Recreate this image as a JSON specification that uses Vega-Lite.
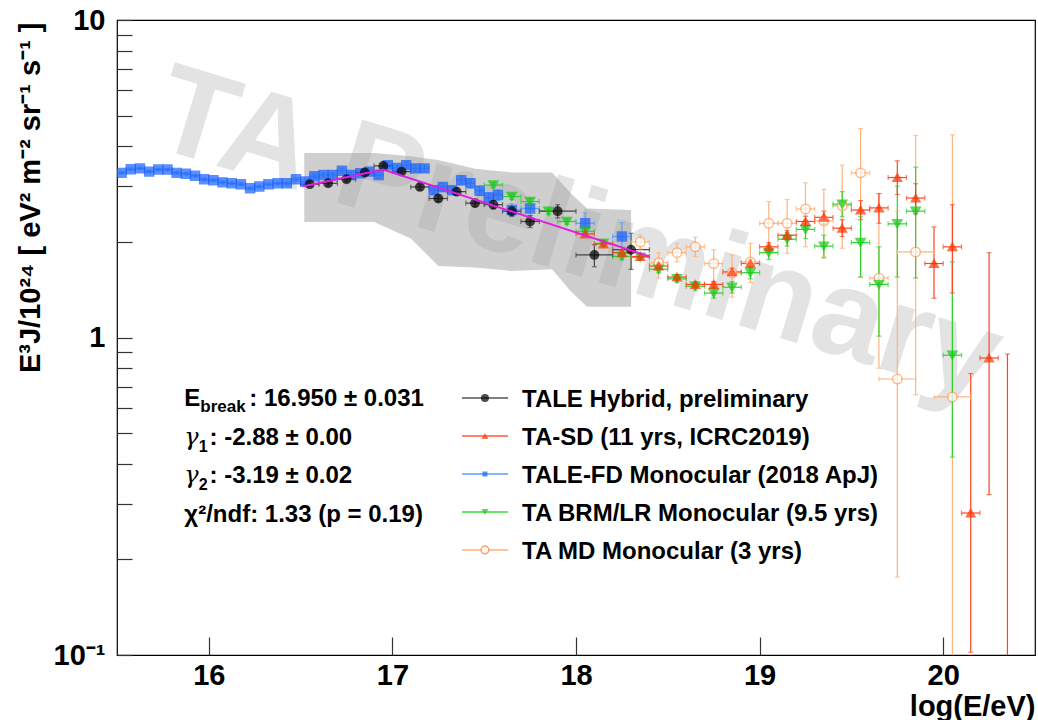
{
"$schema": "https://vega.github.io/schema/vega-lite/v6.json",
"width": 918, "height": 635,
"autosize": {"type": "none"},
"padding": {"left": 117, "top": 20, "right": 3, "bottom": 65},
"background": "white",
"config": {"view": {"stroke": "#000", "strokeWidth": 1.2}, "font": "Liberation Sans"},
"resolve": {"scale": {"shape": "independent"}},
"datasets": {
"pts": [
{"s":"FD","x":15.525,"y":3.30,"ylo":3.27,"yhi":3.33,"xlo":15.5,"xhi":15.55},
{"s":"FD","x":15.575,"y":3.39,"ylo":3.36,"yhi":3.42,"xlo":15.55,"xhi":15.6},
{"s":"FD","x":15.625,"y":3.41,"ylo":3.38,"yhi":3.44,"xlo":15.6,"xhi":15.65},
{"s":"FD","x":15.675,"y":3.33,"ylo":3.30,"yhi":3.36,"xlo":15.65,"xhi":15.7},
{"s":"FD","x":15.725,"y":3.38,"ylo":3.35,"yhi":3.41,"xlo":15.7,"xhi":15.75},
{"s":"FD","x":15.775,"y":3.38,"ylo":3.35,"yhi":3.41,"xlo":15.75,"xhi":15.8},
{"s":"FD","x":15.825,"y":3.30,"ylo":3.27,"yhi":3.33,"xlo":15.8,"xhi":15.85},
{"s":"FD","x":15.875,"y":3.28,"ylo":3.25,"yhi":3.31,"xlo":15.85,"xhi":15.9},
{"s":"FD","x":15.925,"y":3.23,"ylo":3.20,"yhi":3.26,"xlo":15.9,"xhi":15.95},
{"s":"FD","x":15.975,"y":3.15,"ylo":3.12,"yhi":3.18,"xlo":15.95,"xhi":16.0},
{"s":"FD","x":16.025,"y":3.13,"ylo":3.10,"yhi":3.16,"xlo":16.0,"xhi":16.05},
{"s":"FD","x":16.075,"y":3.08,"ylo":3.05,"yhi":3.11,"xlo":16.05,"xhi":16.1},
{"s":"FD","x":16.125,"y":3.06,"ylo":3.03,"yhi":3.09,"xlo":16.1,"xhi":16.15},
{"s":"FD","x":16.175,"y":3.04,"ylo":3.01,"yhi":3.07,"xlo":16.15,"xhi":16.2},
{"s":"FD","x":16.225,"y":2.95,"ylo":2.92,"yhi":2.98,"xlo":16.2,"xhi":16.25},
{"s":"FD","x":16.275,"y":2.99,"ylo":2.96,"yhi":3.02,"xlo":16.25,"xhi":16.3},
{"s":"FD","x":16.325,"y":3.04,"ylo":3.01,"yhi":3.07,"xlo":16.3,"xhi":16.35},
{"s":"FD","x":16.375,"y":3.06,"ylo":3.03,"yhi":3.09,"xlo":16.35,"xhi":16.4},
{"s":"FD","x":16.425,"y":3.06,"ylo":3.03,"yhi":3.09,"xlo":16.4,"xhi":16.45},
{"s":"FD","x":16.475,"y":3.15,"ylo":3.11,"yhi":3.19,"xlo":16.45,"xhi":16.5},
{"s":"FD","x":16.525,"y":3.10,"ylo":3.05,"yhi":3.15,"xlo":16.5,"xhi":16.55},
{"s":"FD","x":16.575,"y":3.22,"ylo":3.17,"yhi":3.27,"xlo":16.55,"xhi":16.6},
{"s":"FD","x":16.625,"y":3.25,"ylo":3.20,"yhi":3.30,"xlo":16.6,"xhi":16.65},
{"s":"FD","x":16.675,"y":3.25,"ylo":3.20,"yhi":3.30,"xlo":16.65,"xhi":16.7},
{"s":"FD","x":16.725,"y":3.35,"ylo":3.29,"yhi":3.41,"xlo":16.7,"xhi":16.75},
{"s":"FD","x":16.775,"y":3.25,"ylo":3.19,"yhi":3.31,"xlo":16.75,"xhi":16.8},
{"s":"FD","x":16.825,"y":3.29,"ylo":3.23,"yhi":3.35,"xlo":16.8,"xhi":16.85},
{"s":"FD","x":16.875,"y":3.33,"ylo":3.27,"yhi":3.39,"xlo":16.85,"xhi":16.9},
{"s":"FD","x":16.925,"y":3.25,"ylo":3.18,"yhi":3.32,"xlo":16.9,"xhi":16.95},
{"s":"FD","x":16.975,"y":3.49,"ylo":3.42,"yhi":3.56,"xlo":16.95,"xhi":17.0},
{"s":"FD","x":17.025,"y":3.42,"ylo":3.35,"yhi":3.49,"xlo":17.0,"xhi":17.05},
{"s":"FD","x":17.075,"y":3.49,"ylo":3.41,"yhi":3.57,"xlo":17.05,"xhi":17.1},
{"s":"FD","x":17.125,"y":3.41,"ylo":3.33,"yhi":3.49,"xlo":17.1,"xhi":17.15},
{"s":"FD","x":17.175,"y":3.41,"ylo":3.33,"yhi":3.49,"xlo":17.15,"xhi":17.2},
{"s":"FD","x":17.225,"y":2.91,"ylo":2.83,"yhi":2.99,"xlo":17.2,"xhi":17.25},
{"s":"FD","x":17.275,"y":2.98,"ylo":2.90,"yhi":3.06,"xlo":17.25,"xhi":17.3},
{"s":"FD","x":17.325,"y":2.91,"ylo":2.83,"yhi":2.99,"xlo":17.3,"xhi":17.35},
{"s":"FD","x":17.375,"y":3.13,"ylo":3.03,"yhi":3.23,"xlo":17.35,"xhi":17.4},
{"s":"FD","x":17.425,"y":3.06,"ylo":2.96,"yhi":3.16,"xlo":17.4,"xhi":17.45},
{"s":"FD","x":17.475,"y":2.90,"ylo":2.80,"yhi":3.00,"xlo":17.45,"xhi":17.5},
{"s":"FD","x":17.525,"y":2.76,"ylo":2.66,"yhi":2.86,"xlo":17.5,"xhi":17.55},
{"s":"FD","x":17.575,"y":2.81,"ylo":2.70,"yhi":2.92,"xlo":17.55,"xhi":17.6},
{"s":"FD","x":17.65,"y":2.52,"ylo":2.40,"yhi":2.64,"xlo":17.6,"xhi":17.7},
{"s":"FD","x":17.75,"y":2.55,"ylo":2.42,"yhi":2.68,"xlo":17.7,"xhi":17.8},
{"s":"FD","x":18.05,"y":2.29,"ylo":2.12,"yhi":2.47,"xlo":18.0,"xhi":18.1},
{"s":"FD","x":18.25,"y":2.08,"ylo":1.89,"yhi":2.30,"xlo":18.2,"xhi":18.3},
{"s":"MD","x":18.35,"y":2.00,"ylo":1.90,"yhi":2.10,"xlo":18.3,"xhi":18.4},
{"s":"MD","x":18.45,"y":1.72,"ylo":1.54,"yhi":1.85,"xlo":18.4,"xhi":18.5},
{"s":"MD","x":18.55,"y":1.85,"ylo":1.73,"yhi":1.98,"xlo":18.5,"xhi":18.6},
{"s":"MD","x":18.65,"y":1.93,"ylo":1.80,"yhi":2.07,"xlo":18.6,"xhi":18.7},
{"s":"MD","x":18.75,"y":1.71,"ylo":1.49,"yhi":1.89,"xlo":18.7,"xhi":18.8},
{"s":"MD","x":18.85,"y":1.60,"ylo":1.34,"yhi":1.82,"xlo":18.8,"xhi":18.9},
{"s":"MD","x":18.95,"y":1.73,"ylo":1.49,"yhi":1.98,"xlo":18.9,"xhi":19.0},
{"s":"MD","x":19.05,"y":2.29,"ylo":1.96,"yhi":2.68,"xlo":19.0,"xhi":19.1},
{"s":"MD","x":19.15,"y":2.29,"ylo":1.84,"yhi":2.72,"xlo":19.1,"xhi":19.2},
{"s":"MD","x":19.25,"y":2.54,"ylo":1.93,"yhi":3.07,"xlo":19.2,"xhi":19.3},
{"s":"MD","x":19.35,"y":2.33,"ylo":1.80,"yhi":2.93,"xlo":19.3,"xhi":19.4},
{"s":"MD","x":19.45,"y":2.60,"ylo":1.91,"yhi":3.49,"xlo":19.4,"xhi":19.5},
{"s":"MD","x":19.55,"y":3.30,"ylo":1.55,"yhi":4.55,"xlo":19.5,"xhi":19.6},
{"s":"MD","x":19.65,"y":1.54,"ylo":0.80,"yhi":2.84,"xlo":19.6,"xhi":19.7},
{"s":"MD","x":19.75,"y":0.74,"ylo":0.176,"yhi":2.5,"xlo":19.65,"xhi":19.85},
{"s":"MD","x":19.85,"y":1.86,"ylo":0.66,"yhi":4.33,"xlo":19.75,"xhi":19.95},
{"s":"MD","x":20.05,"y":0.65,"ylo":0.05,"yhi":4.35,"xlo":19.95,"xhi":20.15},
{"s":"BRM","x":17.55,"y":3.02,"ylo":2.96,"yhi":3.08,"xlo":17.5,"xhi":17.6},
{"s":"BRM","x":17.65,"y":2.78,"ylo":2.72,"yhi":2.84,"xlo":17.6,"xhi":17.7},
{"s":"BRM","x":17.75,"y":2.68,"ylo":2.62,"yhi":2.74,"xlo":17.7,"xhi":17.8},
{"s":"BRM","x":17.85,"y":2.50,"ylo":2.44,"yhi":2.56,"xlo":17.8,"xhi":17.9},
{"s":"BRM","x":17.95,"y":2.32,"ylo":2.27,"yhi":2.37,"xlo":17.9,"xhi":18.0},
{"s":"BRM","x":18.05,"y":2.16,"ylo":2.11,"yhi":2.21,"xlo":18.0,"xhi":18.1},
{"s":"BRM","x":18.15,"y":1.98,"ylo":1.94,"yhi":2.02,"xlo":18.1,"xhi":18.2},
{"s":"BRM","x":18.25,"y":1.80,"ylo":1.76,"yhi":1.84,"xlo":18.2,"xhi":18.3},
{"s":"BRM","x":18.35,"y":1.79,"ylo":1.75,"yhi":1.83,"xlo":18.3,"xhi":18.4},
{"s":"BRM","x":18.45,"y":1.64,"ylo":1.60,"yhi":1.68,"xlo":18.4,"xhi":18.5},
{"s":"BRM","x":18.55,"y":1.53,"ylo":1.49,"yhi":1.57,"xlo":18.5,"xhi":18.6},
{"s":"BRM","x":18.65,"y":1.45,"ylo":1.41,"yhi":1.49,"xlo":18.6,"xhi":18.7},
{"s":"BRM","x":18.75,"y":1.38,"ylo":1.33,"yhi":1.43,"xlo":18.7,"xhi":18.8},
{"s":"BRM","x":18.85,"y":1.44,"ylo":1.38,"yhi":1.50,"xlo":18.8,"xhi":18.9},
{"s":"BRM","x":18.95,"y":1.60,"ylo":1.53,"yhi":1.67,"xlo":18.9,"xhi":19.0},
{"s":"BRM","x":19.05,"y":1.85,"ylo":1.76,"yhi":1.94,"xlo":19.0,"xhi":19.1},
{"s":"BRM","x":19.15,"y":2.04,"ylo":1.94,"yhi":2.14,"xlo":19.1,"xhi":19.2},
{"s":"BRM","x":19.25,"y":2.19,"ylo":2.05,"yhi":2.33,"xlo":19.2,"xhi":19.3},
{"s":"BRM","x":19.35,"y":1.94,"ylo":1.78,"yhi":2.10,"xlo":19.3,"xhi":19.4},
{"s":"BRM","x":19.45,"y":2.63,"ylo":2.40,"yhi":2.88,"xlo":19.4,"xhi":19.5},
{"s":"BRM","x":19.55,"y":1.99,"ylo":1.55,"yhi":2.40,"xlo":19.5,"xhi":19.6},
{"s":"BRM","x":19.65,"y":1.47,"ylo":1.01,"yhi":1.93,"xlo":19.6,"xhi":19.7},
{"s":"BRM","x":19.75,"y":2.28,"ylo":1.55,"yhi":3.00,"xlo":19.7,"xhi":19.8},
{"s":"BRM","x":19.85,"y":2.50,"ylo":1.54,"yhi":3.44,"xlo":19.8,"xhi":19.9},
{"s":"BRM","x":20.05,"y":0.88,"ylo":0.42,"yhi":1.73,"xlo":20.0,"xhi":20.1},
{"s":"SD","x":18.05,"y":2.12,"ylo":2.09,"yhi":2.15,"xlo":18.0,"xhi":18.1},
{"s":"SD","x":18.15,"y":1.97,"ylo":1.94,"yhi":2.00,"xlo":18.1,"xhi":18.2},
{"s":"SD","x":18.25,"y":1.85,"ylo":1.82,"yhi":1.88,"xlo":18.2,"xhi":18.3},
{"s":"SD","x":18.35,"y":1.80,"ylo":1.77,"yhi":1.83,"xlo":18.3,"xhi":18.4},
{"s":"SD","x":18.45,"y":1.68,"ylo":1.65,"yhi":1.71,"xlo":18.4,"xhi":18.5},
{"s":"SD","x":18.55,"y":1.55,"ylo":1.52,"yhi":1.58,"xlo":18.5,"xhi":18.6},
{"s":"SD","x":18.65,"y":1.47,"ylo":1.44,"yhi":1.50,"xlo":18.6,"xhi":18.7},
{"s":"SD","x":18.75,"y":1.47,"ylo":1.44,"yhi":1.50,"xlo":18.7,"xhi":18.8},
{"s":"SD","x":18.85,"y":1.61,"ylo":1.57,"yhi":1.65,"xlo":18.8,"xhi":18.9},
{"s":"SD","x":18.95,"y":1.71,"ylo":1.66,"yhi":1.76,"xlo":18.9,"xhi":19.0},
{"s":"SD","x":19.05,"y":1.93,"ylo":1.87,"yhi":1.99,"xlo":19.0,"xhi":19.1},
{"s":"SD","x":19.15,"y":2.10,"ylo":2.03,"yhi":2.17,"xlo":19.1,"xhi":19.2},
{"s":"SD","x":19.25,"y":2.32,"ylo":2.23,"yhi":2.41,"xlo":19.2,"xhi":19.3},
{"s":"SD","x":19.35,"y":2.39,"ylo":2.28,"yhi":2.50,"xlo":19.3,"xhi":19.4},
{"s":"SD","x":19.45,"y":2.21,"ylo":2.08,"yhi":2.35,"xlo":19.4,"xhi":19.5},
{"s":"SD","x":19.55,"y":2.52,"ylo":2.35,"yhi":2.70,"xlo":19.5,"xhi":19.6},
{"s":"SD","x":19.65,"y":2.56,"ylo":2.29,"yhi":2.84,"xlo":19.6,"xhi":19.7},
{"s":"SD","x":19.75,"y":3.19,"ylo":2.82,"yhi":3.60,"xlo":19.7,"xhi":19.8},
{"s":"SD","x":19.85,"y":2.75,"ylo":2.45,"yhi":3.05,"xlo":19.8,"xhi":19.9},
{"s":"SD","x":19.95,"y":1.71,"ylo":1.33,"yhi":2.23,"xlo":19.9,"xhi":20.0},
{"s":"SD","x":20.05,"y":1.93,"ylo":1.38,"yhi":2.62,"xlo":20.0,"xhi":20.1},
{"s":"SD","x":20.15,"y":0.28,"ylo":0.102,"yhi":0.77,"xlo":20.1,"xhi":20.2},
{"s":"SD","x":20.25,"y":0.862,"ylo":0.32,"yhi":1.85,"xlo":20.2,"xhi":20.3},
{"s":"SD","x":20.35,"y":0.09,"ylo":0.05,"yhi":0.887,"xlo":20.3,"xhi":20.4},
{"s":"H","x":16.55,"y":3.04,"ylo":2.99,"yhi":3.09,"xlo":16.5,"xhi":16.6},
{"s":"H","x":16.65,"y":3.06,"ylo":3.01,"yhi":3.11,"xlo":16.6,"xhi":16.7},
{"s":"H","x":16.75,"y":3.15,"ylo":3.10,"yhi":3.20,"xlo":16.7,"xhi":16.8},
{"s":"H","x":16.85,"y":3.31,"ylo":3.25,"yhi":3.37,"xlo":16.8,"xhi":16.9},
{"s":"H","x":16.95,"y":3.47,"ylo":3.41,"yhi":3.53,"xlo":16.9,"xhi":17.0},
{"s":"H","x":17.05,"y":3.33,"ylo":3.27,"yhi":3.39,"xlo":17.0,"xhi":17.1},
{"s":"H","x":17.15,"y":2.98,"ylo":2.92,"yhi":3.04,"xlo":17.1,"xhi":17.2},
{"s":"H","x":17.25,"y":2.74,"ylo":2.68,"yhi":2.80,"xlo":17.2,"xhi":17.3},
{"s":"H","x":17.35,"y":2.88,"ylo":2.81,"yhi":2.95,"xlo":17.3,"xhi":17.4},
{"s":"H","x":17.45,"y":2.65,"ylo":2.58,"yhi":2.72,"xlo":17.4,"xhi":17.5},
{"s":"H","x":17.55,"y":2.62,"ylo":2.54,"yhi":2.70,"xlo":17.5,"xhi":17.6},
{"s":"H","x":17.65,"y":2.50,"ylo":2.41,"yhi":2.59,"xlo":17.6,"xhi":17.7},
{"s":"H","x":17.75,"y":2.32,"ylo":2.22,"yhi":2.42,"xlo":17.7,"xhi":17.8},
{"s":"H","x":17.90,"y":2.50,"ylo":2.38,"yhi":2.62,"xlo":17.8,"xhi":18.0},
{"s":"H","x":18.10,"y":1.82,"ylo":1.67,"yhi":1.96,"xlo":18.0,"xhi":18.2},
{"s":"H","x":18.30,"y":1.89,"ylo":1.64,"yhi":2.13,"xlo":18.2,"xhi":18.4}
],
"band": [
{"bx":16.52,"lo":2.31,"hi":3.81},
{"bx":16.90,"lo":2.31,"hi":3.81},
{"bx":17.10,"lo":2.05,"hi":3.72},
{"bx":17.25,"lo":1.68,"hi":3.62},
{"bx":17.45,"lo":1.66,"hi":3.40},
{"bx":17.65,"lo":1.62,"hi":3.31},
{"bx":17.87,"lo":1.64,"hi":3.31},
{"bx":17.97,"lo":1.40,"hi":2.85},
{"bx":18.06,"lo":1.25,"hi":2.55},
{"bx":18.30,"lo":1.25,"hi":2.52}
],
"fit": [
{"fx":16.51,"fy":2.99},
{"fx":16.95,"fy":3.38},
{"fx":18.40,"fy":1.80}
]
},
"layer": [
{"data": {"values": [{}]},
 "mark": {"type": "text", "text": "TA Preliminary", "align": "center", "baseline": "alphabetic", "angle": 17, "font": "Liberation Sans", "fontWeight": "bold", "fontSize": 126, "color": "#e3e3e3"},
 "encoding": {
  "x": {"datum": 17.95, "type": "quantitative", "scale": {"domain": [15.5, 20.5], "nice": false, "zero": false}},
  "y": {"datum": 1.60, "type": "quantitative", "scale": {"type": "log", "domain": [0.1, 10], "nice": false}}
 }},
{"data": {"name": "band"},
 "mark": {"type": "area", "color": "#a0a0a0", "opacity": 0.5, "clip": true},
 "encoding": {
  "x": {"field": "bx", "type": "quantitative", "scale": {"domain": [15.5, 20.5], "nice": false, "zero": false},
   "axis": {"values": [16,17,18,19,20], "format": "d", "tickSize": -18, "tickColor": "#333", "tickWidth": 1.2, "domain": false, "grid": false,
     "labelFont": "Liberation Sans", "labelFontWeight": "bold", "labelFontSize": 29, "labelColor": "#000", "labelPadding": 24, "labelFlush": false, "labelOverlap": false,
     "title": "log(E/eV)", "titleFont": "Liberation Sans", "titleFontWeight": "bold", "titleFontSize": 29, "titleColor": "#000",
     "titleAnchor": "end", "titleAlign": "right", "titleX": 918, "titleY": 60, "titleBaseline": "alphabetic"}},
  "y": {"field": "lo", "type": "quantitative", "scale": {"type": "log", "domain": [0.1, 10], "nice": false},
   "axis": {"values": [0.1,0.2,0.3,0.4,0.5,0.6,0.7,0.8,0.9,1,2,3,4,5,6,7,8,9,10],
     "labelExpr": "datum.value == 0.1 ? '10⁻¹' : datum.value == 1 ? '1' : datum.value == 10 ? '10' : ''",
     "tickSize": -15, "tickColor": "#333", "tickWidth": 1.2, "domain": false, "grid": false,
     "labelFont": "Liberation Sans", "labelFontWeight": "bold", "labelFontSize": 29, "labelColor": "#000", "labelPadding": 27, "labelFlush": false, "labelOverlap": false,
     "title": "E³J/10²⁴ [ eV² m⁻² sr⁻¹ s⁻¹ ]", "titleFont": "Liberation Sans", "titleFontWeight": "bold", "titleFontSize": 29, "titleColor": "#000",
     "titleAngle": -90, "titleAlign": "right", "titleBaseline": "middle", "titleX": -87, "titleY": 2}},
  "y2": {"field": "hi"}
 }},
{"data": {"name": "pts"},
 "mark": {"type": "rule", "strokeWidth": 1.2, "clip": true},
 "encoding": {
  "x": {"field": "x", "type": "quantitative", "scale": {"domain": [15.5, 20.5], "nice": false, "zero": false}},
  "y": {"field": "ylo", "type": "quantitative", "scale": {"type": "log", "domain": [0.1, 10], "nice": false}},
  "y2": {"field": "yhi"},
  "color": {"field": "s", "type": "nominal", "scale": {"domain": ["MD","BRM","FD","SD","H"], "range": ["#ffb47a","#2bd42b","#5c9bff","#ff4422","#444444"]}, "legend": null}
 }},
{"data": {"name": "pts"},
 "mark": {"type": "rule", "strokeWidth": 1.2, "clip": true},
 "encoding": {
  "x": {"field": "xlo", "type": "quantitative", "scale": {"domain": [15.5, 20.5], "nice": false, "zero": false}},
  "x2": {"field": "xhi"},
  "y": {"field": "y", "type": "quantitative", "scale": {"type": "log", "domain": [0.1, 10], "nice": false}},
  "color": {"field": "s", "type": "nominal", "scale": {"domain": ["MD","BRM","FD","SD","H"], "range": ["#ffb47a","#2bd42b","#5c9bff","#ff4422","#444444"]}, "legend": null}
 }},
{"data": {"name": "pts"},
 "transform": [{"fold": ["ylo", "yhi"], "as": ["k", "v"]}],
 "mark": {"type": "tick", "orient": "horizontal", "size": 5, "thickness": 1.2, "clip": true},
 "encoding": {
  "x": {"field": "x", "type": "quantitative", "scale": {"domain": [15.5, 20.5], "nice": false, "zero": false}},
  "y": {"field": "v", "type": "quantitative", "scale": {"type": "log", "domain": [0.1, 10], "nice": false}},
  "color": {"field": "s", "type": "nominal", "scale": {"domain": ["MD","BRM","FD","SD","H"], "range": ["#ffb47a","#2bd42b","#5c9bff","#ff4422","#444444"]}, "legend": null}
 }},
{"data": {"name": "pts"},
 "transform": [{"fold": ["xlo", "xhi"], "as": ["k", "v"]}],
 "mark": {"type": "tick", "orient": "vertical", "size": 5, "thickness": 1.2, "clip": true},
 "encoding": {
  "x": {"field": "v", "type": "quantitative", "scale": {"domain": [15.5, 20.5], "nice": false, "zero": false}},
  "y": {"field": "y", "type": "quantitative", "scale": {"type": "log", "domain": [0.1, 10], "nice": false}},
  "color": {"field": "s", "type": "nominal", "scale": {"domain": ["MD","BRM","FD","SD","H"], "range": ["#ffb47a","#2bd42b","#5c9bff","#ff4422","#444444"]}, "legend": null}
 }},
{"data": {"name": "pts"},
 "mark": {"type": "point", "filled": true, "strokeWidth": 1.5, "clip": true},
 "encoding": {
  "x": {"field": "x", "type": "quantitative", "scale": {"domain": [15.5, 20.5], "nice": false, "zero": false}},
  "y": {"field": "y", "type": "quantitative", "scale": {"type": "log", "domain": [0.1, 10], "nice": false}},
  "fill": {"field": "s", "type": "nominal", "scale": {"domain": ["MD","BRM","FD","SD","H"], "range": ["#ffffff","#18c818","#1560ff","#ff3300","#000000"]}, "legend": null},
  "stroke": {"field": "s", "type": "nominal", "scale": {"domain": ["MD","BRM","FD","SD","H"], "range": ["#ffa060","#18c818","#1560ff","#ff3300","#000000"]}, "legend": null},
  "size": {"field": "s", "type": "nominal", "scale": {"domain": ["MD","BRM","FD","SD","H"], "range": [90, 70, 22, 70, 95]}, "legend": null},
  "shape": {"field": "s", "type": "nominal", "scale": {"domain": ["MD","BRM","FD","SD","H"], "range": ["circle","triangle-down","square","triangle-up","circle"]}, "legend": null}
 }},
{"data": {"name": "pts"},
 "mark": {"type": "point", "filled": true, "opacity": 0, "clip": true},
 "encoding": {
  "x": {"field": "x", "type": "quantitative", "scale": {"domain": [15.5, 20.5], "nice": false, "zero": false}},
  "y": {"field": "y", "type": "quantitative", "scale": {"type": "log", "domain": [0.1, 10], "nice": false}},
  "shape": {"field": "s", "type": "nominal",
   "scale": {"domain": ["H","SD","FD","BRM","MD"], "range": ["circle","triangle-up","square","triangle-down","circle"]},
   "legend": {"orient": "none", "legendX": 356, "legendY": 368, "title": null, "padding": 0,
     "symbolSize": 400, "symbolOpacity": 0,
     "labelFont": "Liberation Sans", "labelFontSize": 24, "labelFontWeight": "bold", "labelColor": "#000", "labelOffset": 25, "rowPadding": 14, "labelLimit": 0,
     "labelExpr": "datum.value === 'H' ? 'TALE Hybrid, preliminary' : datum.value === 'SD' ? 'TA-SD (11 yrs, ICRC2019)' : datum.value === 'FD' ? 'TALE-FD Monocular (2018 ApJ)' : datum.value === 'BRM' ? 'TA BRM/LR Monocular (9.5 yrs)' : 'TA MD Monocular (3 yrs)'"}}
 }},
{"data": {"name": "fit"},
 "mark": {"type": "line", "color": "#e020e0", "strokeWidth": 2, "clip": true},
 "encoding": {
  "x": {"field": "fx", "type": "quantitative", "scale": {"domain": [15.5, 20.5], "nice": false, "zero": false}},
  "y": {"field": "fy", "type": "quantitative", "scale": {"type": "log", "domain": [0.1, 10], "nice": false}}
 }},
{"data": {"values": [{}]},
 "mark": {"type": "rule", "color": "#555555", "strokeWidth": 1.5},
 "encoding": {"x": {"datum": 17.379, "type": "quantitative", "scale": {"domain": [15.5, 20.5], "nice": false, "zero": false}}, "x2": {"datum": 17.630},
  "y": {"datum": 0.6449, "type": "quantitative", "scale": {"type": "log", "domain": [0.1, 10], "nice": false}}}},
{"data": {"values": [{}]},
 "mark": {"type": "point", "shape": "circle", "filled": true, "size": 64, "color": "#000000"},
 "encoding": {"x": {"datum": 17.504, "type": "quantitative", "scale": {"domain": [15.5, 20.5], "nice": false, "zero": false}},
  "y": {"datum": 0.6449, "type": "quantitative", "scale": {"type": "log", "domain": [0.1, 10], "nice": false}}}},
{"data": {"values": [{}]},
 "mark": {"type": "rule", "color": "#ff5a36", "strokeWidth": 1.5},
 "encoding": {"x": {"datum": 17.379, "type": "quantitative", "scale": {"domain": [15.5, 20.5], "nice": false, "zero": false}}, "x2": {"datum": 17.630},
  "y": {"datum": 0.4896, "type": "quantitative", "scale": {"type": "log", "domain": [0.1, 10], "nice": false}}}},
{"data": {"values": [{}]},
 "mark": {"type": "point", "shape": "triangle-up", "filled": true, "size": 50, "color": "#ff3300"},
 "encoding": {"x": {"datum": 17.504, "type": "quantitative", "scale": {"domain": [15.5, 20.5], "nice": false, "zero": false}},
  "y": {"datum": 0.4896, "type": "quantitative", "scale": {"type": "log", "domain": [0.1, 10], "nice": false}}}},
{"data": {"values": [{}]},
 "mark": {"type": "rule", "color": "#5c9bff", "strokeWidth": 1.5},
 "encoding": {"x": {"datum": 17.379, "type": "quantitative", "scale": {"domain": [15.5, 20.5], "nice": false, "zero": false}}, "x2": {"datum": 17.630},
  "y": {"datum": 0.3716, "type": "quantitative", "scale": {"type": "log", "domain": [0.1, 10], "nice": false}}}},
{"data": {"values": [{}]},
 "mark": {"type": "point", "shape": "square", "filled": true, "size": 25, "color": "#1560ff"},
 "encoding": {"x": {"datum": 17.504, "type": "quantitative", "scale": {"domain": [15.5, 20.5], "nice": false, "zero": false}},
  "y": {"datum": 0.3716, "type": "quantitative", "scale": {"type": "log", "domain": [0.1, 10], "nice": false}}}},
{"data": {"values": [{}]},
 "mark": {"type": "rule", "color": "#33dd33", "strokeWidth": 1.5},
 "encoding": {"x": {"datum": 17.379, "type": "quantitative", "scale": {"domain": [15.5, 20.5], "nice": false, "zero": false}}, "x2": {"datum": 17.630},
  "y": {"datum": 0.2821, "type": "quantitative", "scale": {"type": "log", "domain": [0.1, 10], "nice": false}}}},
{"data": {"values": [{}]},
 "mark": {"type": "point", "shape": "triangle-down", "filled": true, "size": 50, "color": "#18c818"},
 "encoding": {"x": {"datum": 17.504, "type": "quantitative", "scale": {"domain": [15.5, 20.5], "nice": false, "zero": false}},
  "y": {"datum": 0.2821, "type": "quantitative", "scale": {"type": "log", "domain": [0.1, 10], "nice": false}}}},
{"data": {"values": [{}]},
 "mark": {"type": "rule", "color": "#ffb07a", "strokeWidth": 1.5},
 "encoding": {"x": {"datum": 17.379, "type": "quantitative", "scale": {"domain": [15.5, 20.5], "nice": false, "zero": false}}, "x2": {"datum": 17.630},
  "y": {"datum": 0.2142, "type": "quantitative", "scale": {"type": "log", "domain": [0.1, 10], "nice": false}}}},
{"data": {"values": [{}]},
 "mark": {"type": "point", "shape": "circle", "filled": false, "fill": "#ffffff", "fillOpacity": 1, "stroke": "#ffa060", "strokeWidth": 1.5, "size": 60},
 "encoding": {"x": {"datum": 17.504, "type": "quantitative", "scale": {"domain": [15.5, 20.5], "nice": false, "zero": false}},
  "y": {"datum": 0.2142, "type": "quantitative", "scale": {"type": "log", "domain": [0.1, 10], "nice": false}}}},
{"data": {"values": [{}]},
 "mark": {"type": "text", "text": "E", "align": "left", "baseline": "alphabetic", "font": "Liberation Sans", "fontWeight": "bold", "fontSize": 24, "color": "#000"},
 "encoding": {"x": {"datum": 15.8668, "type": "quantitative", "scale": {"domain": [15.5, 20.5], "nice": false, "zero": false}},
  "y": {"datum": 0.6085, "type": "quantitative", "scale": {"type": "log", "domain": [0.1, 10], "nice": false}}}},
{"data": {"values": [{}]},
 "mark": {"type": "text", "text": "break", "align": "left", "baseline": "alphabetic", "font": "Liberation Sans", "fontWeight": "bold", "fontSize": 17, "color": "#000"},
 "encoding": {"x": {"datum": 15.9538, "type": "quantitative", "scale": {"domain": [15.5, 20.5], "nice": false, "zero": false}},
  "y": {"datum": 0.5825, "type": "quantitative", "scale": {"type": "log", "domain": [0.1, 10], "nice": false}}}},
{"data": {"values": [{}]},
 "mark": {"type": "text", "text": ": 16.950 ± 0.031", "align": "left", "baseline": "alphabetic", "font": "Liberation Sans", "fontWeight": "bold", "fontSize": 24, "color": "#000"},
 "encoding": {"x": {"datum": 16.2202, "type": "quantitative", "scale": {"domain": [15.5, 20.5], "nice": false, "zero": false}},
  "y": {"datum": 0.6085, "type": "quantitative", "scale": {"type": "log", "domain": [0.1, 10], "nice": false}}}},
{"data": {"values": [{}]},
 "mark": {"type": "text", "text": "γ", "align": "left", "baseline": "alphabetic", "font": "DejaVu Serif", "fontStyle": "italic", "fontSize": 24, "color": "#000"},
 "encoding": {"x": {"datum": 15.8668, "type": "quantitative", "scale": {"domain": [15.5, 20.5], "nice": false, "zero": false}},
  "y": {"datum": 0.4585, "type": "quantitative", "scale": {"type": "log", "domain": [0.1, 10], "nice": false}}}},
{"data": {"values": [{}]},
 "mark": {"type": "text", "text": "1", "align": "left", "baseline": "alphabetic", "font": "Liberation Sans", "fontWeight": "bold", "fontSize": 16, "color": "#000"},
 "encoding": {"x": {"datum": 15.945, "type": "quantitative", "scale": {"domain": [15.5, 20.5], "nice": false, "zero": false}},
  "y": {"datum": 0.4358, "type": "quantitative", "scale": {"type": "log", "domain": [0.1, 10], "nice": false}}}},
{"data": {"values": [{}]},
 "mark": {"type": "text", "text": ": -2.88 ± 0.00", "align": "left", "baseline": "alphabetic", "font": "Liberation Sans", "fontWeight": "bold", "fontSize": 24, "color": "#000"},
 "encoding": {"x": {"datum": 16.004, "type": "quantitative", "scale": {"domain": [15.5, 20.5], "nice": false, "zero": false}},
  "y": {"datum": 0.4585, "type": "quantitative", "scale": {"type": "log", "domain": [0.1, 10], "nice": false}}}},
{"data": {"values": [{}]},
 "mark": {"type": "text", "text": "γ", "align": "left", "baseline": "alphabetic", "font": "DejaVu Serif", "fontStyle": "italic", "fontSize": 24, "color": "#000"},
 "encoding": {"x": {"datum": 15.8668, "type": "quantitative", "scale": {"domain": [15.5, 20.5], "nice": false, "zero": false}},
  "y": {"datum": 0.3480, "type": "quantitative", "scale": {"type": "log", "domain": [0.1, 10], "nice": false}}}},
{"data": {"values": [{}]},
 "mark": {"type": "text", "text": "2", "align": "left", "baseline": "alphabetic", "font": "Liberation Sans", "fontWeight": "bold", "fontSize": 16, "color": "#000"},
 "encoding": {"x": {"datum": 15.945, "type": "quantitative", "scale": {"domain": [15.5, 20.5], "nice": false, "zero": false}},
  "y": {"datum": 0.3309, "type": "quantitative", "scale": {"type": "log", "domain": [0.1, 10], "nice": false}}}},
{"data": {"values": [{}]},
 "mark": {"type": "text", "text": ": -3.19 ± 0.02", "align": "left", "baseline": "alphabetic", "font": "Liberation Sans", "fontWeight": "bold", "fontSize": 24, "color": "#000"},
 "encoding": {"x": {"datum": 16.004, "type": "quantitative", "scale": {"domain": [15.5, 20.5], "nice": false, "zero": false}},
  "y": {"datum": 0.3480, "type": "quantitative", "scale": {"type": "log", "domain": [0.1, 10], "nice": false}}}},
{"data": {"values": [{}]},
 "mark": {"type": "text", "text": "χ²/ndf: 1.33 (p = 0.19)", "align": "left", "baseline": "alphabetic", "font": "Liberation Sans", "fontWeight": "bold", "fontSize": 24, "color": "#000"},
 "encoding": {"x": {"datum": 15.8668, "type": "quantitative", "scale": {"domain": [15.5, 20.5], "nice": false, "zero": false}},
  "y": {"datum": 0.2623, "type": "quantitative", "scale": {"type": "log", "domain": [0.1, 10], "nice": false}}}}
]
}
